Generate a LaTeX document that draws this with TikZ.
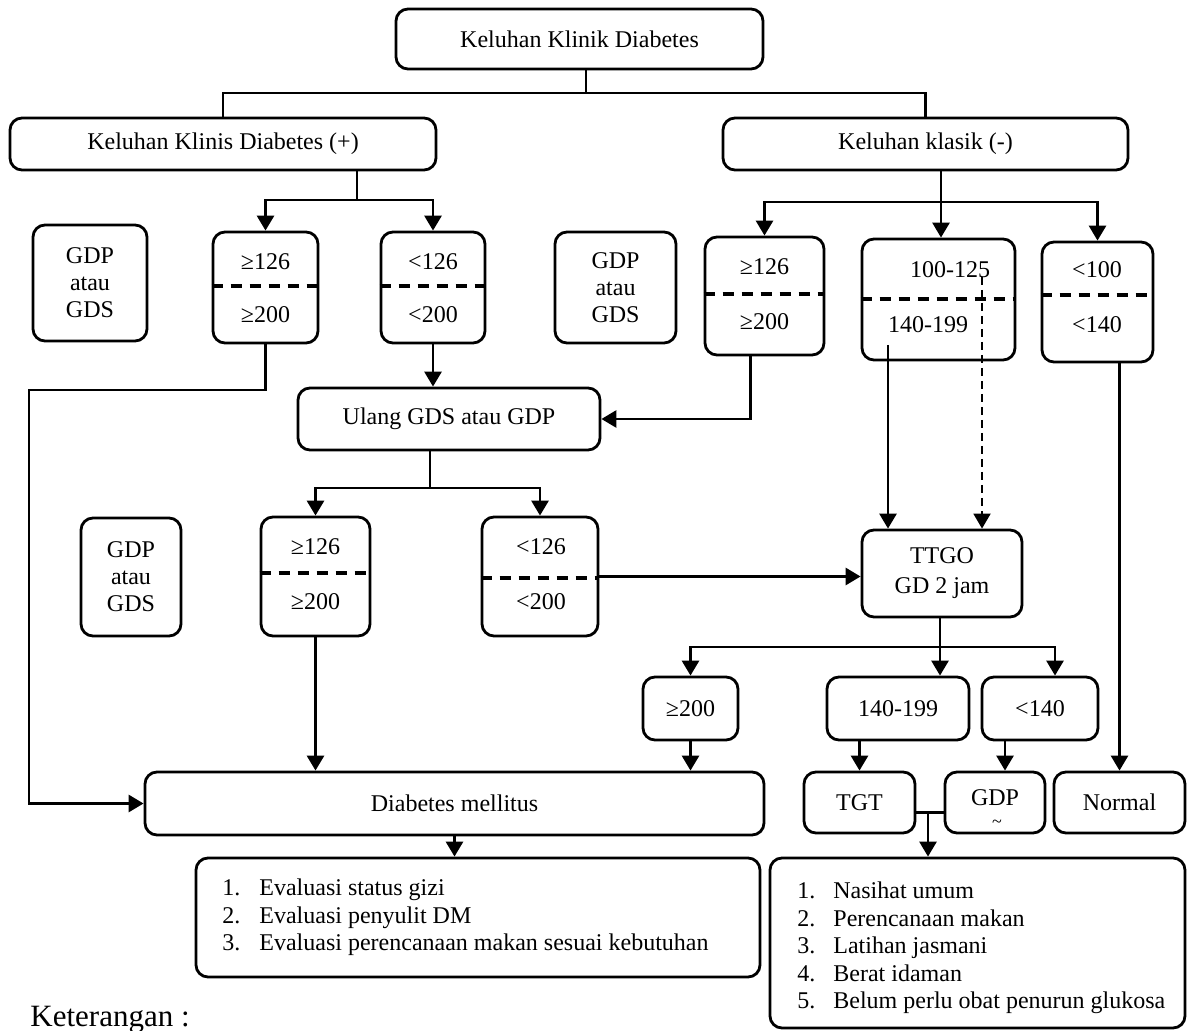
\documentclass[tikz,border=0pt]{standalone}
\usepackage{fontspec}
\setmainfont{Liberation Serif}
\usetikzlibrary{arrows.meta,positioning}

\tikzset{
  rbox/.style={draw, rounded corners=6pt, line width=1.4pt, inner sep=2pt},
  halfline/.style={line width=2pt, dash pattern=on 5.5pt off 4pt},
  conn/.style={line width=1.4pt},
  arr/.style={conn, -{Triangle[width=8.5pt,length=7.5pt]}},
}

\begin{document}
\begin{tikzpicture}[x=0.5pt,y=-0.5pt,font=\fontsize{12}{13.5}\selectfont]
\useasboundingbox (0,0) rectangle (1188,1031);
% top level
\node (top) [rbox, minimum width=183.5pt, minimum height=30pt] at (579.5,39) {Keluhan Klinik Diabetes};
\node (kplus) [rbox, minimum width=213pt, minimum height=26pt] at (223,144) {Keluhan Klinis Diabetes (+)};
\node (kmin) [rbox, minimum width=202.5pt, minimum height=26pt] at (925.5,144) {Keluhan klasik (-)};
% first test
\node (gdp1) [rbox, minimum width=57pt, minimum height=58pt, align=center] at (90,283) {GDP\\atau\\GDS};
\node (A1) [rbox, minimum width=52.5pt, minimum height=55.5pt] at (265.5,287.5) {};
\node (A2) [rbox, minimum width=52pt, minimum height=55.5pt] at (433,287.5) {};
\node (gdp2) [rbox, minimum width=60.5pt, minimum height=55.5pt, align=center] at (615.5,287.5) {GDP\\atau\\GDS};
\node (B1) [rbox, minimum width=59.5pt, minimum height=59pt] at (764.5,296) {};
\node (B2) [rbox, minimum width=76.5pt, minimum height=60.5pt] at (938.5,299.5) {};
\node (B3) [rbox, minimum width=55.5pt, minimum height=60pt] at (1097.5,302) {};
\node (A1u) at (265.5,262) {≥126};  \node (A1l) at (265.5,315) {≥200};
\node (A2u) at (433,262) {<126};    \node (A2l) at (433,315) {<200};
\node (B1u) at (764.5,267) {≥126};  \node (B1l) at (764.5,322) {≥200};
\node (B2u) at (950,270) {100-125}; \node (B2l) at (928,325) {140-199};
\node (B3u) at (1097,270) {<100};   \node (B3l) at (1097,325) {<140};
% repeat test
\node (ulang) [rbox, minimum width=151pt, minimum height=31pt] at (449,419) {Ulang GDS atau GDP};
\node (gdp3) [rbox, minimum width=50pt, minimum height=59pt, align=center] at (131,577) {GDP\\atau\\GDS};
\node (C1) [rbox, minimum width=54.5pt, minimum height=59.5pt] at (315.5,576.5) {};
\node (C2) [rbox, minimum width=58pt, minimum height=59.5pt] at (540,576.5) {};
\node (C1u) at (315.5,547) {≥126}; \node (C1l) at (315.5,602) {≥200};
\node (C2u) at (541,547) {<126};   \node (C2l) at (541,602) {<200};
\node (ttgo) [rbox, minimum width=80pt, minimum height=43.5pt, align=center] at (942,573.5) {TTGO\\[1.5pt]GD 2 jam};
\node (D1) [rbox, minimum width=47.5pt, minimum height=31.5pt] at (690.5,708.5) {≥200};
\node (D2) [rbox, minimum width=71pt, minimum height=31.5pt] at (898,708.5) {140-199};
\node (D3) [rbox, minimum width=58pt, minimum height=31.5pt] at (1040,708.5) {<140};
% results
\node (dm) [rbox, minimum width=309.5pt, minimum height=31.5pt] at (454.5,803.5) {Diabetes mellitus};
\node (tgt) [rbox, minimum width=55.5pt, minimum height=30.5pt] at (859.5,802.5) {TGT};
\node (gdpr) [rbox, minimum width=50pt, minimum height=30.5pt] at (995,802.5) {};
\node (gdprt) [anchor=base, inner sep=0pt] at (995,805) {GDP};
\node (gdprm) [anchor=base, font=\small, inner sep=0pt] at (997,827) {\textasciitilde};
\node (normal) [rbox, minimum width=65.5pt, minimum height=30.5pt] at (1119.5,802.5) {Normal};
\node (eval) [rbox, minimum width=282pt, minimum height=59.5pt] at (478,917.5) {};
\node (evlist) [anchor=west, align=left, inner sep=0pt, font=\fontsize{12}{13.75}\selectfont] at (222,917.5)
  {\makebox[18.5pt][l]{1.}Evaluasi status gizi\\
   \makebox[18.5pt][l]{2.}Evaluasi penyulit DM\\
   \makebox[18.5pt][l]{3.}Evaluasi perencanaan makan sesuai kebutuhan};
\node (advice) [rbox, minimum width=207.5pt, minimum height=85pt] at (977.5,943) {};
\node (advlist) [anchor=west, align=left, inner sep=0pt, font=\fontsize{12}{13.75}\selectfont] at (797,948)
  {\makebox[18pt][l]{1.}Nasihat umum\\
   \makebox[18pt][l]{2.}Perencanaan makan\\
   \makebox[18pt][l]{3.}Latihan jasmani\\
   \makebox[18pt][l]{4.}Berat idaman\\
   \makebox[18pt][l]{5.}Belum perlu obat penurun glukosa};
\node (ket) [anchor=base west, inner sep=0pt, font=\fontsize{15.5}{18}\selectfont] at (30,1026) {Keterangan :};
% dashed dividers
\foreach \n/\s in {A1/0.75,A2/0.75,B1/1,B2/0,B3/3.5,C1/1.75,C2/-0.75}
  {\draw[halfline] ([yshift=\s pt]\n.west) -- ([yshift=\s pt]\n.east);}
% connectors
\coordinate (tp) at (586,93);
\coordinate (kp) at (357,200);
\coordinate (km) at (941,202);
\coordinate (lft) at (29,390);
\coordinate (ul) at (430,488);
\coordinate (b2s) at (888,345);
\coordinate (b2d) at (982,277);
\coordinate (tt) at (940,647);
\coordinate (tg) at (928,813);
\draw[conn] (top.south -| tp) -- (tp) -| (kplus.north);
\draw[conn] (tp) -| (kmin.north);
\draw[conn] (kplus.south -| kp) -- (kp);
\draw[arr] (kp) -| (A1.north);
\draw[arr] (kp) -| (A2.north);
\draw[conn] (kmin.south -| km) -- (km);
\draw[arr] (km) -| (B1.north);
\draw[arr] (km) -- (km |- B2.north);
\draw[arr] (km) -| (B3.north);
\draw[arr] (A1.south) |- (lft) |- (dm.west);
\draw[arr] (A2.south) -- (A2.south |- ulang.north);
\draw[arr] ([xshift=-7pt]B1.south) |- (ulang.east);
\draw[conn] (ulang.south -| ul) -- (ul);
\draw[arr] (ul) -| (C1.north);
\draw[arr] (ul) -| (C2.north);
\draw[arr] (C1.south) -- (C1.south |- dm.north);
\draw[arr] (C2.east) -- (C2.east -| ttgo.west);
\draw[arr] (b2s) -- (b2s |- ttgo.north);
\draw[arr, line width=1pt, dash pattern=on 4pt off 2.5pt] (b2d) -- (b2d |- ttgo.north);
\draw[arr] ([xshift=11pt]B3.south) -- ([xshift=11pt]B3.south |- normal.north);
\draw[conn] (ttgo.south -| tt) -- (tt);
\draw[arr] (tt) -| (D1.north);
\draw[arr] (tt) -- (tt |- D2.north);
\draw[arr] (tt) -| ([xshift=7.5pt]D3.north);
\draw[arr] (D1.south) -- (D1.south |- dm.north);
\draw[arr] (D2.south -| tgt.north) -- (tgt.north);
\draw[arr] ([xshift=5pt]gdpr.north |- D3.south) -- ([xshift=5pt]gdpr.north);
\draw[conn] ([yshift=-5pt]tgt.east) -- ([yshift=-5pt]gdpr.west);
\draw[arr] (tg) -- (tg |- advice.north);
\draw[arr] (dm.south) -- (dm.south |- eval.north);
\end{tikzpicture}
\end{document}
